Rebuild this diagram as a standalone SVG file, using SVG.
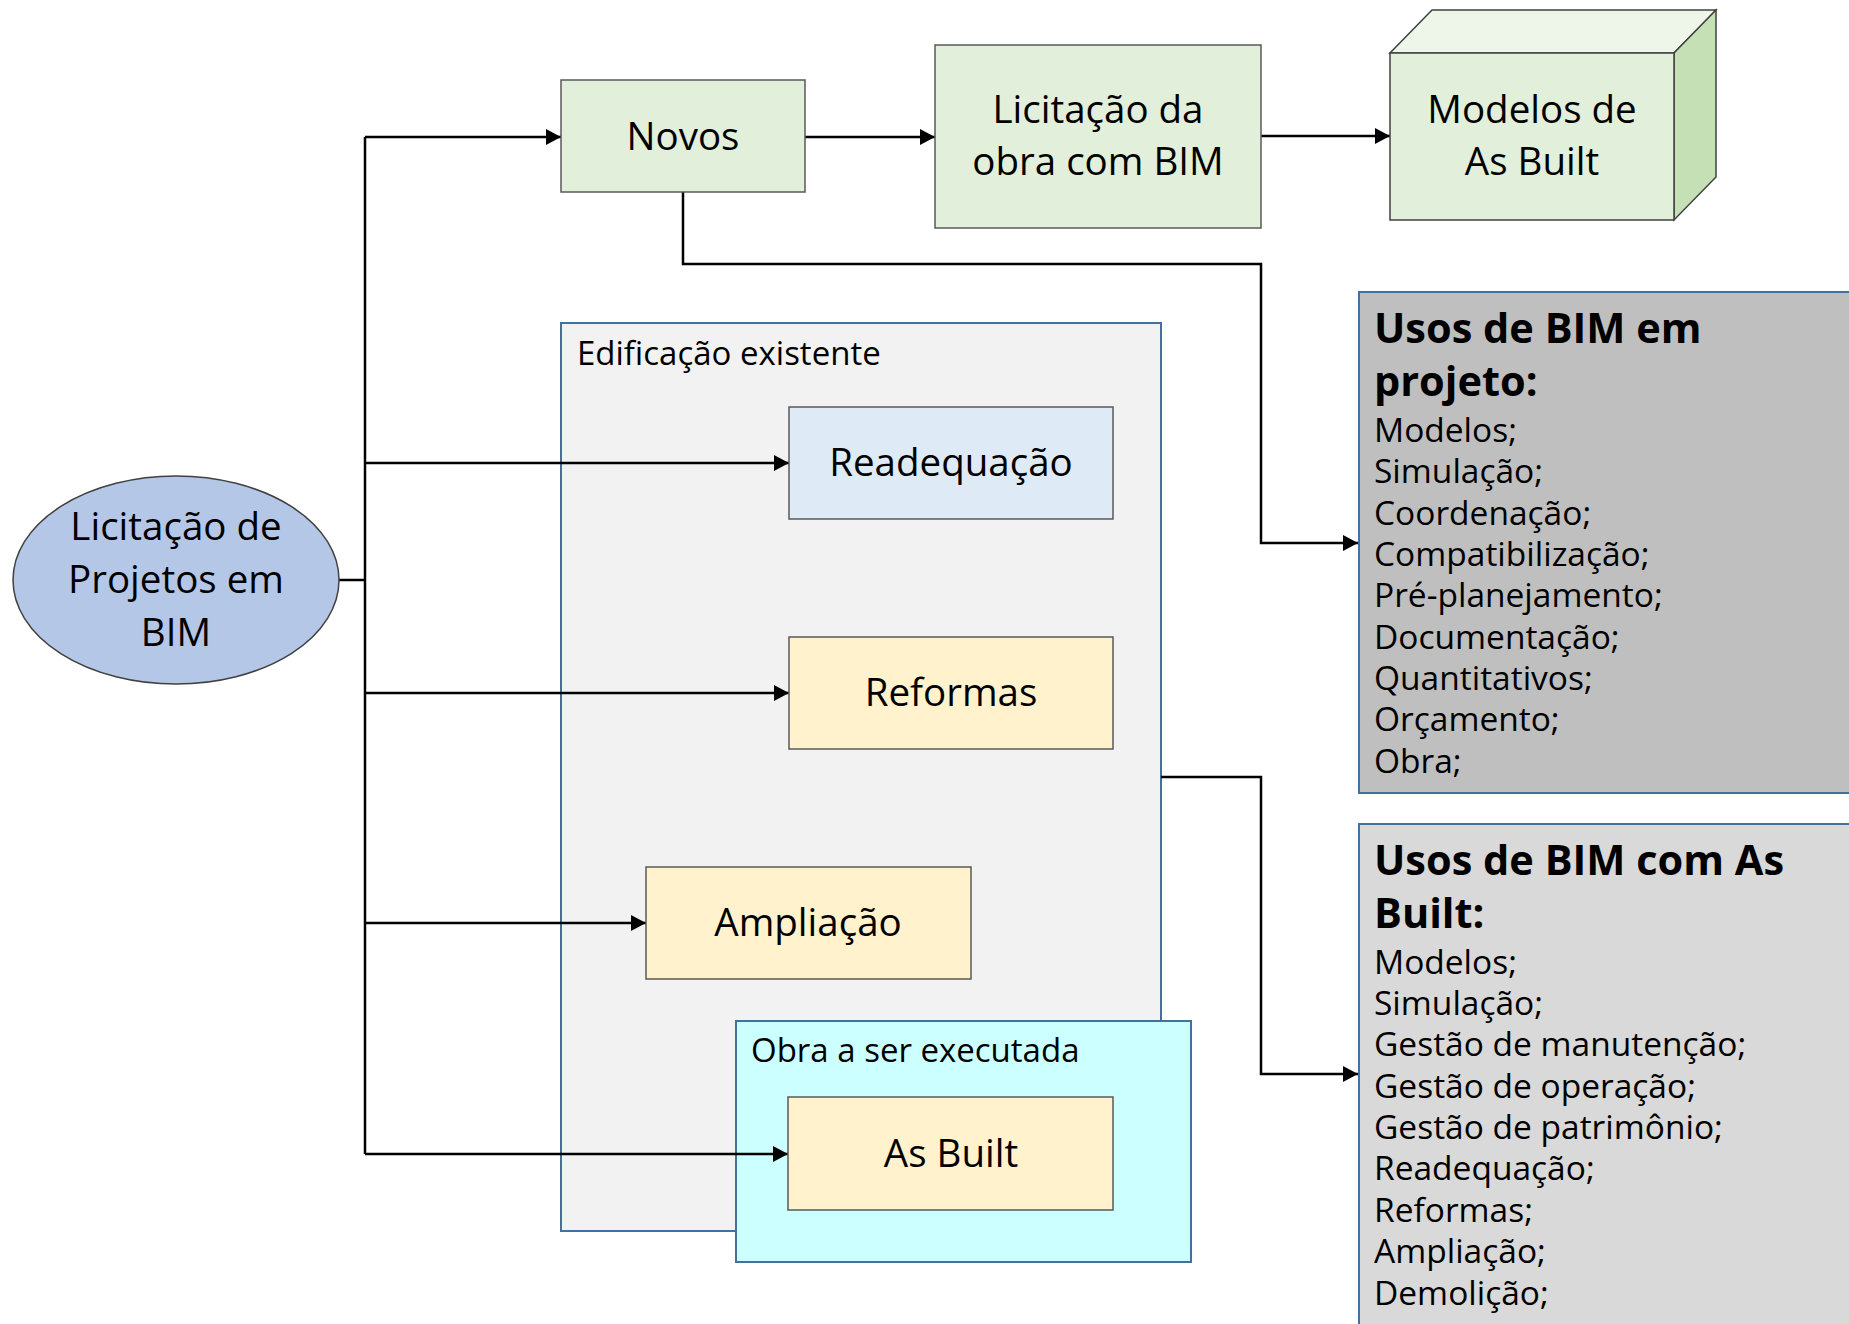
<svg xmlns="http://www.w3.org/2000/svg" width="1849" height="1324" viewBox="0 0 1849 1324">
<style>
  .lbl { font-family: "Open Sans", "Noto Sans", "DejaVu Sans", sans-serif; font-size: 38.5px; fill: #000; text-anchor: middle; }
  .ttl { font-family: "Open Sans", "Noto Sans", "DejaVu Sans", sans-serif; font-size: 33px; fill: #000; }
  .uh { font-family: "Open Sans", "Noto Sans", "DejaVu Sans", sans-serif; font-size: 41.5px; font-weight: bold; fill: #000; }
  .ub { font-family: "Open Sans", "Noto Sans", "DejaVu Sans", sans-serif; font-size: 33.5px; fill: #000; }
  .box { stroke: #595959; stroke-width: 1.5; }
  .green { fill: #E2EFDA; }
  .yellow { fill: #FFF2CC; }
  .conn { fill: none; stroke: #000; stroke-width: 2.5; }
</style>
<defs>
  <marker id="arr" markerUnits="userSpaceOnUse" markerWidth="18" markerHeight="18" refX="15" refY="8" orient="auto">
    <path d="M0,0 L15,8 L0,16 z" fill="#000"/>
  </marker>
</defs>
<rect width="1849" height="1324" fill="#fff"/>

<g id="edificacao-existente">
  <rect x="561" y="323" width="600" height="908" fill="#F2F2F2" stroke="#41719C" stroke-width="2"/>
  <text class="ttl" x="577" y="365">Edificação existente</text>
</g>
<g id="obra-a-ser-executada">
  <rect x="736" y="1021" width="455" height="241" fill="#CCFFFF" stroke="#41719C" stroke-width="2"/>
  <text class="ttl" x="751" y="1062">Obra a ser executada</text>
</g>

<g id="connectors">
  <polyline class="conn" points="339,580 365,580"/>
  <polyline class="conn" points="365,137 365,1154"/>
  <polyline class="conn" points="365,137 561,137" marker-end="url(#arr)"/>
  <polyline class="conn" points="365,463 789,463" marker-end="url(#arr)"/>
  <polyline class="conn" points="365,693 789,693" marker-end="url(#arr)"/>
  <polyline class="conn" points="365,923 646,923" marker-end="url(#arr)"/>
  <polyline class="conn" points="365,1154 788,1154" marker-end="url(#arr)"/>
  <polyline class="conn" points="805,137 935,137" marker-end="url(#arr)"/>
  <polyline class="conn" points="1261,136 1390,136" marker-end="url(#arr)"/>
  <polyline class="conn" points="683,192 683,264 1261,264 1261,543 1358,543" marker-end="url(#arr)"/>
  <polyline class="conn" points="1161,777 1261,777 1261,1074 1358,1074" marker-end="url(#arr)"/>
</g>

<g id="licitacao-projetos">
  <ellipse cx="176" cy="580" rx="163" ry="104" fill="#B4C7E7" stroke="#404040" stroke-width="1.5"/>
  <text class="lbl" x="176" y="540">Licitação de</text>
  <text class="lbl" x="176" y="593">Projetos em</text>
  <text class="lbl" x="176" y="646">BIM</text>
</g>

<g id="novos">
  <rect class="box green" x="561" y="80" width="244" height="112"/>
  <text class="lbl" x="683" y="150">Novos</text>
</g>

<g id="licitacao-obra">
  <rect class="box green" x="935" y="45" width="326" height="183"/>
  <text class="lbl" x="1098" y="123">Licitação da</text>
  <text class="lbl" x="1098" y="175">obra com BIM</text>
</g>

<g id="modelos-as-built">
  <polygon points="1390,53 1432,10 1716,10 1674,53" fill="#EEF6E9" stroke="#404040" stroke-width="1.5"/>
  <polygon points="1674,53 1716,10 1716,177 1674,220" fill="#C5E0B4" stroke="#404040" stroke-width="1.5"/>
  <rect x="1390" y="53" width="284" height="167" fill="#E2EFDA" stroke="#404040" stroke-width="1.5"/>
  <text class="lbl" x="1532" y="123">Modelos de</text>
  <text class="lbl" x="1532" y="175">As Built</text>
</g>

<g id="readequacao">
  <rect class="box" x="789" y="407" width="324" height="112" fill="#DEEBF7"/>
  <text class="lbl" x="951" y="476">Readequação</text>
</g>

<g id="reformas">
  <rect class="box yellow" x="789" y="637" width="324" height="112"/>
  <text class="lbl" x="951" y="706">Reformas</text>
</g>

<g id="ampliacao">
  <rect class="box yellow" x="646" y="867" width="325" height="112"/>
  <text class="lbl" x="808" y="936">Ampliação</text>
</g>

<g id="as-built">
  <rect class="box yellow" x="788" y="1097" width="325" height="113"/>
  <text class="lbl" x="951" y="1167">As Built</text>
</g>

<g id="usos-projeto">
  <rect x="1359" y="292" width="500" height="501" fill="#BFBFBF" stroke="#41719C" stroke-width="2"/>
  <text class="uh" x="1374" y="343">Usos de BIM em</text>
  <text class="uh" x="1374" y="396">projeto:</text>
  <text class="ub" x="1374" y="442">Modelos;</text>
  <text class="ub" x="1374" y="483">Simulação;</text>
  <text class="ub" x="1374" y="525">Coordenação;</text>
  <text class="ub" x="1374" y="566">Compatibilização;</text>
  <text class="ub" x="1374" y="607">Pré-planejamento;</text>
  <text class="ub" x="1374" y="649">Documentação;</text>
  <text class="ub" x="1374" y="690">Quantitativos;</text>
  <text class="ub" x="1374" y="731">Orçamento;</text>
  <text class="ub" x="1374" y="773">Obra;</text>
</g>

<g id="usos-as-built">
  <rect x="1359" y="824" width="500" height="520" fill="#D9D9D9" stroke="#41719C" stroke-width="2"/>
  <text class="uh" x="1374" y="875">Usos de BIM com As</text>
  <text class="uh" x="1374" y="928">Built:</text>
  <text class="ub" x="1374" y="974">Modelos;</text>
  <text class="ub" x="1374" y="1015">Simulação;</text>
  <text class="ub" x="1374" y="1056">Gestão de manutenção;</text>
  <text class="ub" x="1374" y="1098">Gestão de operação;</text>
  <text class="ub" x="1374" y="1139">Gestão de patrimônio;</text>
  <text class="ub" x="1374" y="1180">Readequação;</text>
  <text class="ub" x="1374" y="1222">Reformas;</text>
  <text class="ub" x="1374" y="1263">Ampliação;</text>
  <text class="ub" x="1374" y="1305">Demolição;</text>
</g>
</svg>
